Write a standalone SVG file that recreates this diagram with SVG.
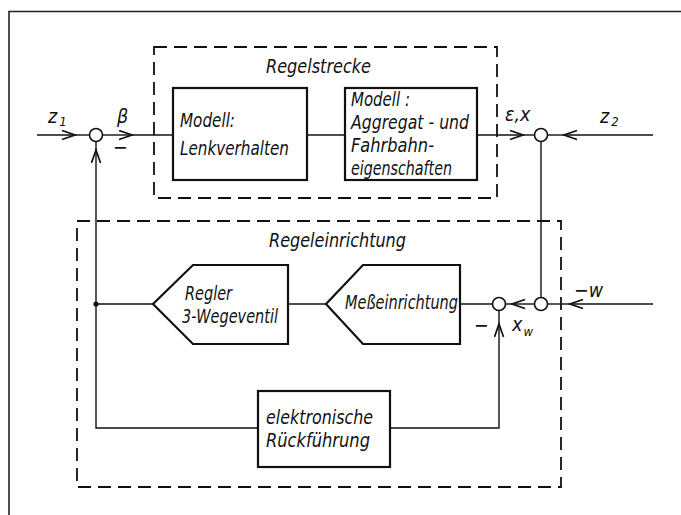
<svg xmlns="http://www.w3.org/2000/svg" width="681" height="515" viewBox="0 0 681 515">
  <style>
    text { font-family: "Liberation Sans Narrow", "DejaVu Sans Condensed", "Liberation Sans", sans-serif; font-style: italic; font-size: 19.5px; fill: #111; }
    .sub { font-size: 13px; }
    .frame { fill: none; stroke: #222; stroke-width: 1.6; }
    .group { fill: none; stroke: #111; stroke-width: 1.8; stroke-dasharray: 13 7; }
    .block { fill: #fff; stroke: #111; stroke-width: 2.2; }
    .wire { fill: none; stroke: #111; stroke-width: 1.4; }
    .sum { fill: #fff; stroke: #111; stroke-width: 1.6; }
    .arr { marker-end: url(#head); }
  </style>
  <defs>
    <marker id="head" markerUnits="userSpaceOnUse" markerWidth="16" markerHeight="12" viewBox="-1 -1 16 12" refX="13" refY="4.5" orient="auto">
      <path d="M0,0 L13,4.5 L0,9" fill="none" stroke="#111" stroke-width="1.7"/>
    </marker>
  </defs>
  <rect width="681" height="515" fill="#fff"/>

  <!-- page frame -->
  <path class="frame" d="M9,515 V11.5 H681"/>

  <!-- controlled system -->
  <g id="regelstrecke">
    <rect class="group" x="154" y="47" width="343" height="151"/>
    <text x="266" y="73" textLength="105" lengthAdjust="spacingAndGlyphs">Regelstrecke</text>
  </g>
  <!-- controller -->
  <g id="regeleinrichtung">
    <rect class="group" x="77" y="221" width="484" height="266"/>
    <text x="269" y="247" textLength="137" lengthAdjust="spacingAndGlyphs">Regeleinrichtung</text>
  </g>

  <!-- connectors -->
  <g id="connectors">
    <path class="wire arr" d="M37,135 H75"/>
    <path class="wire" d="M75,135 H89.5"/>
    <path class="wire arr" d="M102.5,135 H132"/>
    <path class="wire" d="M132,135 H173"/>
    <path class="wire" d="M307,135 H345"/>
    <path class="wire arr" d="M477,135 H523"/>
    <path class="wire" d="M523,135 H534.5"/>
    <path class="wire arr" d="M653,135 H564"/>
    <path class="wire" d="M564,135 H547.5"/>
    <path class="wire" d="M541,141.5 V297.5"/>
    <path class="wire arr" d="M653,304 H570"/>
    <path class="wire" d="M570,304 H547.5"/>
    <path class="wire arr" d="M534.5,304 H512"/>
    <path class="wire" d="M512,304 H505.5"/>
    <path class="wire" d="M492.5,304 H460"/>
    <path class="wire" d="M326,304 H288"/>
    <path class="wire" d="M153,304 H96"/>
    <path class="wire arr" d="M258,428 H96 V150"/>
    <path class="wire" d="M96,150 V141.5"/>
    <path class="wire arr" d="M390,428 H499 V324"/>
    <path class="wire" d="M499,324 V310.5"/>
    <circle cx="96" cy="304" r="2.6" fill="#111"/>
  </g>

  <g id="sum1"><circle class="sum" cx="96" cy="135" r="6.5"/></g>
  <g id="sum2"><circle class="sum" cx="541" cy="135" r="6.5"/></g>
  <g id="sum3"><circle class="sum" cx="541" cy="304" r="6.5"/></g>
  <g id="sum4"><circle class="sum" cx="499" cy="304" r="6.5"/></g>

  <g id="lenkverhalten">
    <rect class="block" x="173" y="88" width="134" height="92"/>
    <text x="180" y="127" textLength="55" lengthAdjust="spacingAndGlyphs">Modell:</text>
    <text x="180" y="155" textLength="109" lengthAdjust="spacingAndGlyphs">Lenkverhalten</text>
  </g>

  <g id="aggregat">
    <rect class="block" x="345" y="88" width="132" height="92"/>
    <text x="351" y="106" textLength="59" lengthAdjust="spacingAndGlyphs">Modell :</text>
    <text x="351" y="129" textLength="118" lengthAdjust="spacingAndGlyphs">Aggregat - und</text>
    <text x="351" y="152" textLength="83" lengthAdjust="spacingAndGlyphs">Fahrbahn-</text>
    <text x="351" y="175" textLength="101" lengthAdjust="spacingAndGlyphs">eigenschaften</text>
  </g>

  <g id="regler">
    <path class="block" d="M153,304 L193,265 H288 V344 H193 Z"/>
    <text x="185" y="300" textLength="47" lengthAdjust="spacingAndGlyphs">Regler</text>
    <text x="182" y="323" textLength="96" lengthAdjust="spacingAndGlyphs">3-Wegeventil</text>
  </g>

  <g id="messeinrichtung">
    <path class="block" d="M326,304 L363,265 H460 V344 H363 Z"/>
    <text x="345" y="309" textLength="113" lengthAdjust="spacingAndGlyphs">Meßeinrichtung</text>
  </g>

  <g id="rueckfuehrung">
    <rect class="block" x="258" y="391" width="132" height="76"/>
    <text x="266" y="424" textLength="107" lengthAdjust="spacingAndGlyphs">elektronische</text>
    <text x="266" y="447" textLength="104" lengthAdjust="spacingAndGlyphs">Rückführung</text>
  </g>

  <!-- signal labels -->
  <g id="labels">
    <text x="48" y="123">z<tspan class="sub" dx="2" dy="3">1</tspan></text>
    <text x="117" y="123">β</text>
    <text x="113" y="154">−</text>
    <text x="505" y="121">ε,x</text>
    <text x="600" y="123">z<tspan class="sub" dx="2" dy="3">2</tspan></text>
    <text x="574" y="297">−w</text>
    <text x="474" y="332">−</text>
    <text x="512" y="331">x<tspan class="sub" dx="1" dy="5">w</tspan></text>
  </g>
</svg>
